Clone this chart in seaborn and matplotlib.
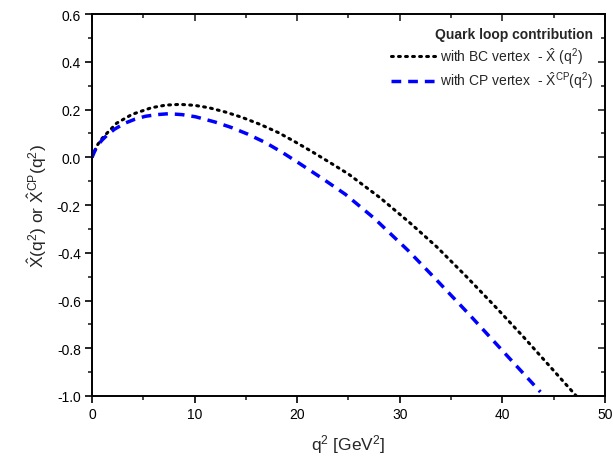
import numpy as np
import pandas as pd
import matplotlib
matplotlib.use("Agg")
import matplotlib.pyplot as plt
from matplotlib.ticker import MultipleLocator
import seaborn as sns

# Data
q2_bc = [0, 0.5, 1, 1.5, 2.4, 3.9, 5.8, 7.2, 8.6, 10, 11.4, 13, 14.6, 16.4, 18.2, 19.8, 21.4, 23.2,
         25, 28.1, 31, 33.6, 36.5, 39.4, 42, 44.5, 47.2]
x_bc = [0, 0.05, 0.08, 0.103, 0.143, 0.18, 0.208, 0.219, 0.222, 0.218, 0.208, 0.19, 0.168, 0.138,
        0.103, 0.065, 0.025, -0.022, -0.07, -0.17, -0.275, -0.375, -0.50, -0.63, -0.75, -0.87, -1.0]

q2_cp = [0, 0.5, 1, 1.5, 2.2, 3.2, 4.2, 5.2, 6.3, 7.5, 8.8, 10.1, 12, 13.6, 15.2, 16.9, 18.5, 20.1,
         22.5, 24.7, 27.5, 30.8, 33.5, 36.8, 40, 43.7]
x_cp = [0, 0.048, 0.073, 0.094, 0.118, 0.143, 0.16, 0.172, 0.179, 0.183, 0.179, 0.17, 0.148, 0.125,
        0.097, 0.062, 0.022, -0.022, -0.09, -0.155, -0.255, -0.39, -0.51, -0.66, -0.81, -0.983]

legend_title = "Quark loop contribution"
label_bc = r"with BC vertex  - $\hat{X}$ ($q^2$)"
label_cp = r"with CP vertex  - $\hat{X}^{CP}$($q^2$)"

sns.set_style("ticks")
plt.rcParams["font.family"] = ["Liberation Sans", "DejaVu Sans"]
plt.rcParams["mathtext.fontset"] = "custom"
plt.rcParams["mathtext.rm"] = "Liberation Sans"
plt.rcParams["mathtext.it"] = "Liberation Sans"
plt.rcParams["mathtext.default"] = "regular"

fig = plt.figure(figsize=(6.13, 4.60), dpi=100)
ax = fig.add_axes([0.150, 0.137, 0.837, 0.830])

df_bc = pd.DataFrame({"q2": q2_bc, "X": x_bc})
df_cp = pd.DataFrame({"q2": q2_cp, "X": x_cp})

sns.lineplot(data=df_bc, x="q2", y="X", ax=ax, color="black", linewidth=2.2,
             linestyle=(0, (0.6, 1.7)), dash_capstyle="round", sort=False, label=label_bc)
sns.lineplot(data=df_cp, x="q2", y="X", ax=ax, color="#0000FF", linewidth=2.5,
             linestyle=(0, (2.8, 2.0)), sort=False, label=label_cp)

ax.set_xlim(0, 50)
ax.set_ylim(-1.0, 0.6)
ax.xaxis.set_major_locator(MultipleLocator(10))
ax.xaxis.set_minor_locator(MultipleLocator(5))
ax.yaxis.set_major_locator(MultipleLocator(0.2))
ax.yaxis.set_minor_locator(MultipleLocator(0.1))
ax.yaxis.set_major_formatter(matplotlib.ticker.FormatStrFormatter("%.1f"))

for s in ax.spines.values():
    s.set_linewidth(1.4)
    s.set_color("black")

ax.tick_params(axis="both", which="major", direction="out", length=5, width=1.2,
               labelsize=10, colors="black", pad=3)
ax.tick_params(axis="both", which="minor", direction="out", length=3, width=1.2)
# mirrored ticks on top/right pointing inward
axt = ax.secondary_xaxis("top")
axt.xaxis.set_major_locator(MultipleLocator(10))
axt.xaxis.set_minor_locator(MultipleLocator(5))
axt.tick_params(which="major", direction="in", length=5, width=1.2, labeltop=False)
axt.tick_params(which="minor", direction="in", length=3, width=1.2)
axr = ax.secondary_yaxis("right")
axr.yaxis.set_major_locator(MultipleLocator(0.2))
axr.yaxis.set_minor_locator(MultipleLocator(0.1))
axr.tick_params(which="major", direction="in", length=5, width=1.2, labelright=False)
axr.tick_params(which="minor", direction="in", length=3, width=1.2)
for a in (axt, axr):
    for s in a.spines.values():
        s.set_visible(False)

ax.set_xlabel(r"q$^2$ [GeV$^2$]", fontsize=12.5, labelpad=8)
ax.set_ylabel(r"$\hat{X}$(q$^2$) or $\hat{X}^{CP}$(q$^2$)", fontsize=12.5, labelpad=6)

leg = ax.legend(loc="upper right", frameon=False, fontsize=10, title=legend_title,
                title_fontproperties={"weight": "bold", "size": 10},
                handlelength=3.2, handletextpad=0.3, borderaxespad=0.5, labelspacing=0.3)
leg._legend_box.align = "right"

fig.savefig("out.png", dpi=100)
